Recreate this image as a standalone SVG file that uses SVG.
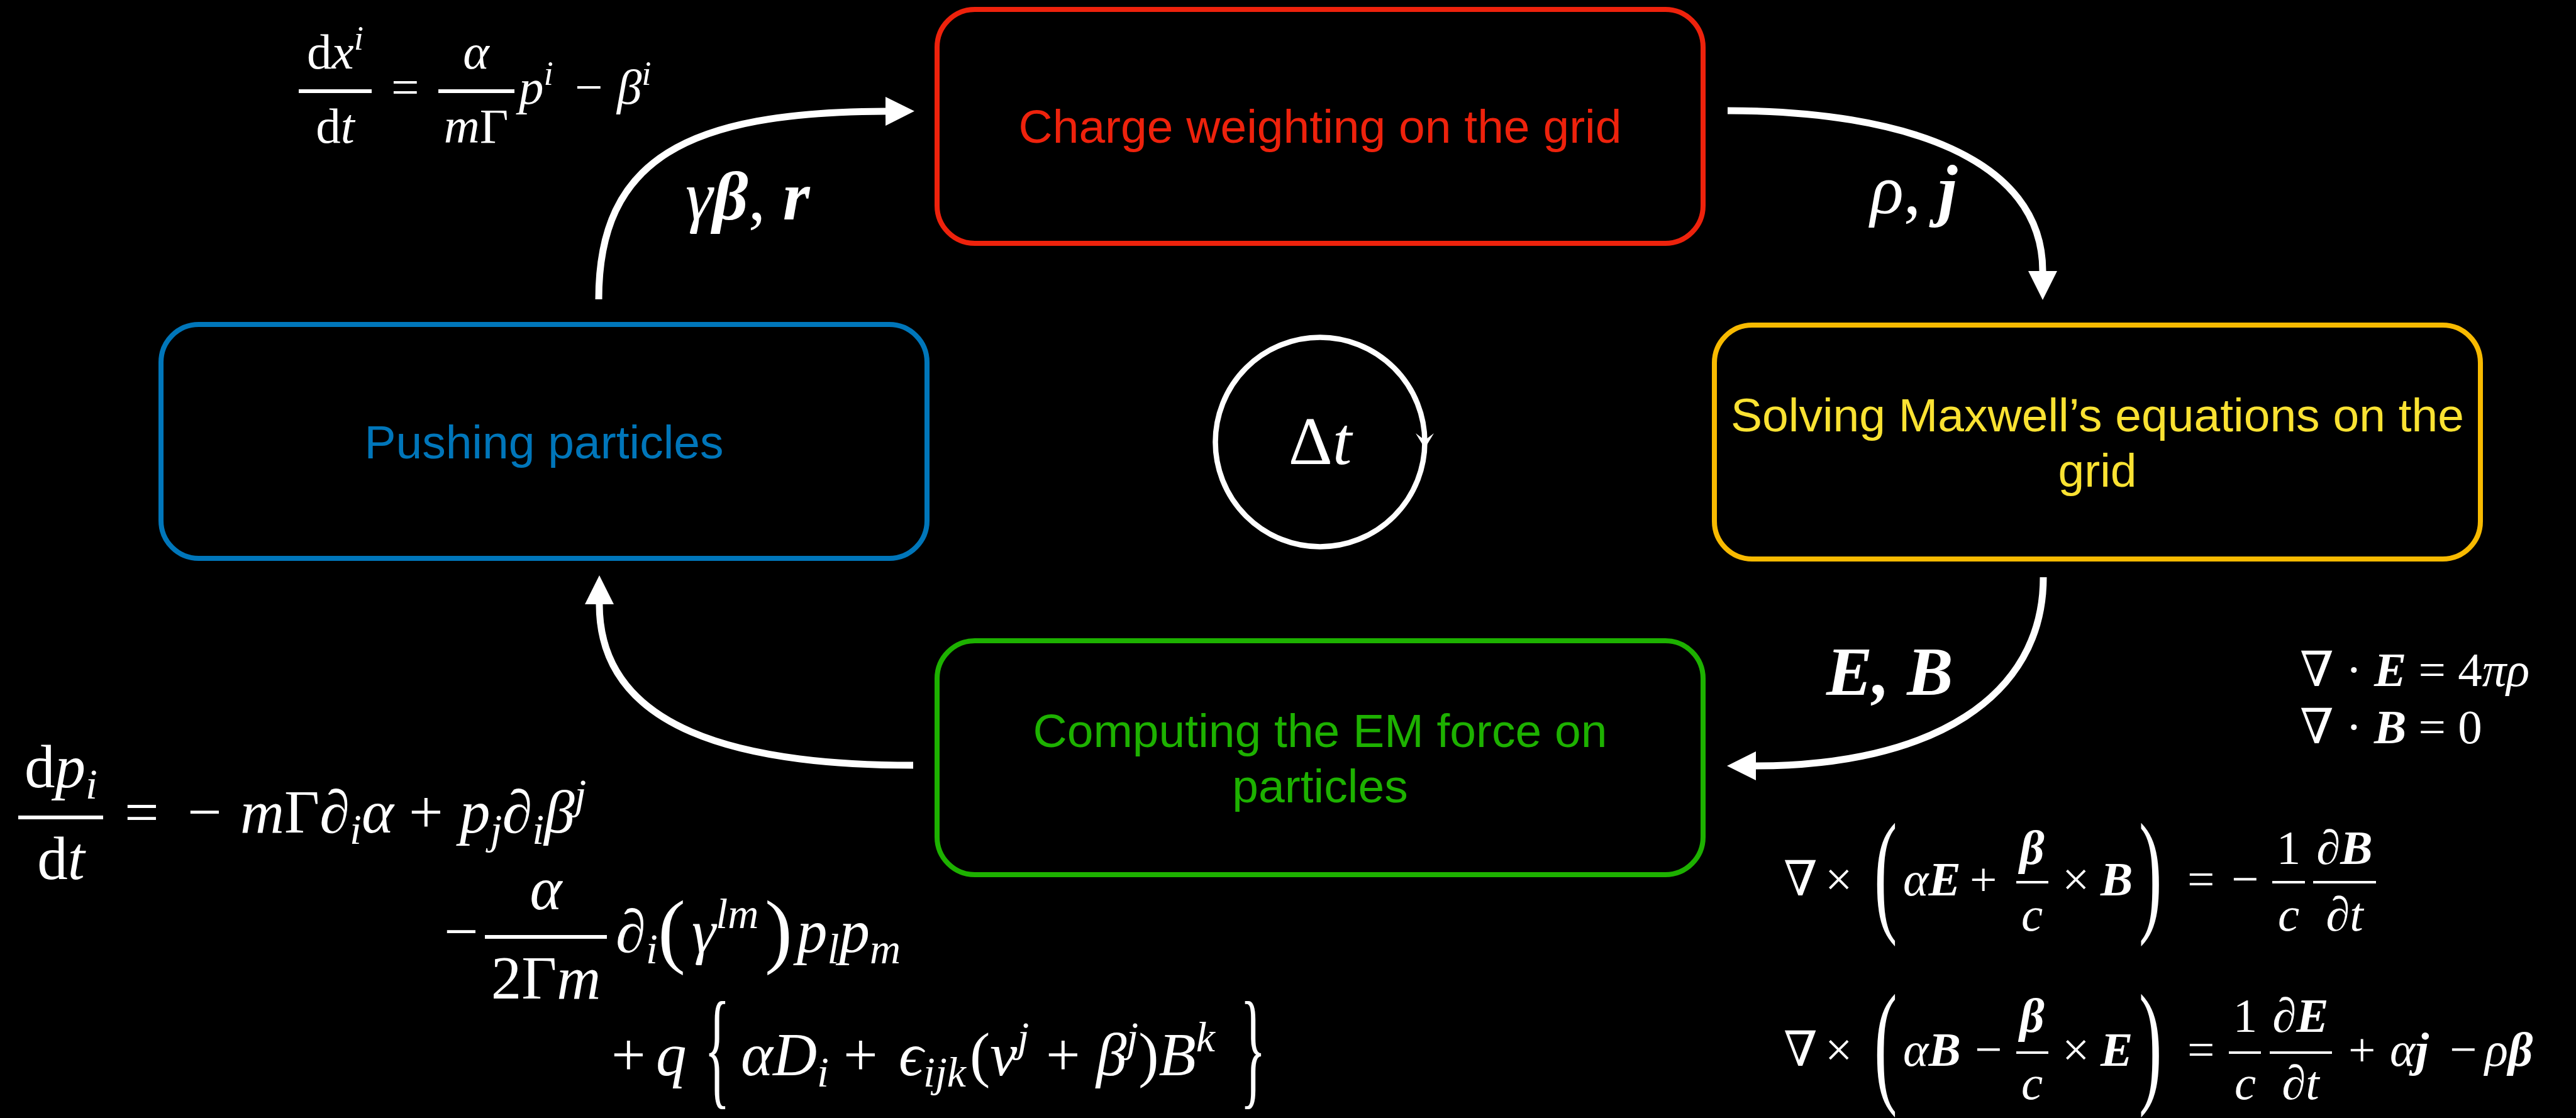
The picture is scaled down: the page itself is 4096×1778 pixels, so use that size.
<svg xmlns="http://www.w3.org/2000/svg" width="4096" height="1778" viewBox="0 0 4096 1778">
<style>
.box{fill:none;stroke-width:8}
.lbl{font-family:'Liberation Sans',Arial,sans-serif;font-size:75px;text-anchor:middle}
.m{font-family:'Liberation Serif','DejaVu Serif',serif;fill:#fff}
.i{font-style:italic}
.b{font-weight:bold;font-style:italic}
.mid{text-anchor:middle}
.conn{fill:none;stroke:#fff;stroke-width:11}
.bar{fill:#fff}
</style>
<defs>
<marker id="ah" markerUnits="userSpaceOnUse" viewBox="0 -24 48 48" markerWidth="48" markerHeight="48" refX="0" refY="0" orient="auto"><path d="M0,-23 L46,0 L0,23 z" fill="#fff"/></marker>
</defs>
<rect width="4096" height="1778" fill="#000"/>

<g id="charge">
<rect class="box" x="1490" y="15" width="1218" height="372" rx="60" stroke="#EE220C"/>
<text class="lbl" x="2099" y="227" fill="#EE220C">Charge weighting on the grid</text>
</g>
<g id="pushing">
<rect class="box" x="256" y="516" width="1218" height="372" rx="60" stroke="#0076BA"/>
<text class="lbl" x="865" y="729" fill="#0076BA">Pushing particles</text>
</g>
<g id="maxwell">
<rect class="box" x="2726" y="517" width="1218" height="372" rx="60" stroke="#F8BA00"/>
<text class="lbl" x="3335" y="686" fill="#FAE232">Solving Maxwell’s equations on the</text>
<text class="lbl" x="3335" y="774" fill="#FAE232">grid</text>
</g>
<g id="force">
<rect class="box" x="1490" y="1019" width="1218" height="372" rx="60" stroke="#1DB100"/>
<text class="lbl" x="2099" y="1188" fill="#1DB100">Computing the EM force on</text>
<text class="lbl" x="2099" y="1276" fill="#1DB100">particles</text>
</g>
<g id="timestep">
<circle cx="2099" cy="703" r="166.5" fill="none" stroke="#fff" stroke-width="8.5"/>
<polygon points="2251,689 2265.5,700 2280,689 2265.5,713" fill="#fff"/>
<text class="m mid" x="2099" y="738" font-size="109">Δ<tspan class="i">t</tspan></text>
</g>

<g id="connectors">
<path class="conn" d="M952,476 C952,252 1093,178 1408,177" marker-end="url(#ah)"/>
<path class="conn" d="M2747,176 C3028,176 3248,252 3248,431" marker-end="url(#ah)"/>
<path class="conn" d="M3249,918 C3249,1110 3070,1218 2792,1218" marker-end="url(#ah)"/>
<path class="conn" d="M1452,1217 C1177,1217 953,1161 953,961" marker-end="url(#ah)"/>
</g>

<g id="edge-labels">
<text class="m" x="1090" y="349" font-size="110"><tspan class="i">γ</tspan><tspan class="b">β</tspan>, <tspan class="b">r</tspan></text>
<text class="m" x="2974" y="339" font-size="110"><tspan class="i">ρ</tspan>, <tspan class="b">j</tspan></text>
<text class="m b" x="2904" y="1105" font-size="110">E, B</text>
</g>

<g id="eq-position" font-size="79">
<text class="m mid" x="533" y="109">d<tspan class="i">x</tspan><tspan class="i" font-size="55" dy="-30">i</tspan></text>
<rect class="bar" x="475" y="142" width="116" height="6"/>
<text class="m mid" x="533" y="227">d<tspan class="i">t</tspan></text>
<text class="m" x="622" y="165">=</text>
<text class="m mid i" x="757" y="109">α</text>
<rect class="bar" x="697" y="142" width="121" height="6"/>
<text class="m mid" x="757" y="227"><tspan class="i">m</tspan>Γ</text>
<text class="m" x="825" y="165"><tspan class="i">p</tspan><tspan class="i" font-size="55" dy="-30">i</tspan></text>
<text class="m" x="914" y="165">−</text>
<text class="m" x="981" y="165"><tspan class="i">β</tspan><tspan class="i" font-size="55" dy="-30">i</tspan></text>
</g>

<g id="eq-momentum" font-size="97">
<text class="m mid" x="97" y="1252">d<tspan class="i">p</tspan><tspan class="i" font-size="68" dy="18">i</tspan></text>
<rect class="bar" x="29" y="1297" width="135" height="6"/>
<text class="m mid" x="97" y="1398">d<tspan class="i">t</tspan></text>
<text class="m" x="198" y="1324">=</text>
<text class="m" x="298" y="1324">−</text>
<text class="m" x="382" y="1324"><tspan class="i">m</tspan>Γ∂<tspan class="i" font-size="68" dy="18">i</tspan><tspan class="i" dy="-18">α</tspan></text>
<text class="m" x="650" y="1324">+</text>
<text class="m" x="731" y="1324"><tspan class="i">p</tspan><tspan class="i" font-size="68" dy="18">j</tspan><tspan dy="-18">∂</tspan><tspan class="i" font-size="68" dy="18">i</tspan><tspan class="i" dy="-18">β</tspan><tspan class="i" font-size="68" dy="-38">j</tspan></text>

<text class="m" x="706" y="1514">−</text>
<rect class="bar" x="771" y="1487" width="194" height="6"/>
<text class="m mid i" x="868" y="1446">α</text>
<text class="m mid" x="868" y="1588">2Γ<tspan class="i">m</tspan></text>
<text class="m" x="979" y="1514">∂<tspan class="i" font-size="68" dy="18">i</tspan></text>
<text class="m" x="1046" y="1523" font-size="132">(</text>
<text class="m" x="1100" y="1514"><tspan class="i">γ</tspan><tspan class="i" font-size="68" dy="-38">lm</tspan></text>
<text class="m" x="1216" y="1523" font-size="132">)</text>
<text class="m" x="1267" y="1514"><tspan class="i">p</tspan><tspan class="i" font-size="68" dy="18">l</tspan><tspan class="i" dy="-18">p</tspan><tspan class="i" font-size="68" dy="18">m</tspan></text>

<text class="m" x="972" y="1710">+</text>
<text class="m i" x="1043" y="1710">q</text>
<text class="m" font-size="85" transform="translate(1120,1736) scale(1,2.44)">{</text>
<text class="m" x="1178" y="1710"><tspan class="i">αD</tspan><tspan class="i" font-size="68" dy="18">i</tspan></text>
<text class="m" x="1341" y="1710">+</text>
<text class="m" x="1429" y="1710"><tspan class="i">ϵ</tspan><tspan class="i" font-size="68" dy="18">ijk</tspan></text>
<text class="m" x="1542" y="1710">(<tspan class="i">v</tspan><tspan class="i" font-size="68" dy="-38">j</tspan></text>
<text class="m" x="1663" y="1710">+</text>
<text class="m" x="1743" y="1710"><tspan class="i">β</tspan><tspan class="i" font-size="68" dy="-38">j</tspan><tspan dy="38">)</tspan><tspan class="i">B</tspan><tspan class="i" font-size="68" dy="-38">k</tspan></text>
<text class="m" font-size="85" transform="translate(1972,1736) scale(1,2.44)">}</text>
</g>

<g id="eq-maxwell" font-size="77">
<text class="m" x="3657" y="1091">∇ · <tspan class="b">E</tspan> = 4<tspan class="i">πρ</tspan></text>
<text class="m" x="3657" y="1182">∇ · <tspan class="b">B</tspan> = 0</text>

<text class="m" x="2836" y="1424">∇</text>
<text class="m" x="2902" y="1424">×</text>
<text class="m" font-size="110" transform="translate(2980,1459) scale(1,1.97)">(</text>
<text class="m" x="3026" y="1424"><tspan class="i">α</tspan><tspan class="b">E</tspan></text>
<text class="m" x="3132" y="1424">+</text>
<text class="m mid b" x="3231" y="1374">β</text>
<rect class="bar" x="3206" y="1401" width="51" height="4"/>
<text class="m mid i" x="3231" y="1480">c</text>
<text class="m" x="3279" y="1424">×</text>
<text class="m b" x="3340" y="1424">B</text>
<text class="m" font-size="110" transform="translate(3401,1459) scale(1,1.97)">)</text>
<text class="m" x="3478" y="1424">=</text>
<text class="m" x="3548" y="1424">−</text>
<text class="m mid" x="3639" y="1374">1</text>
<rect class="bar" x="3613" y="1401" width="52" height="4"/>
<text class="m mid i" x="3639" y="1480">c</text>
<text class="m mid" x="3728" y="1374">∂<tspan class="b">B</tspan></text>
<rect class="bar" x="3678" y="1401" width="100" height="4"/>
<text class="m mid" x="3728" y="1480">∂<tspan class="i">t</tspan></text>

<text class="m" x="2836" y="1695">∇</text>
<text class="m" x="2902" y="1695">×</text>
<text class="m" font-size="110" transform="translate(2980,1731) scale(1,1.97)">(</text>
<text class="m" x="3026" y="1695"><tspan class="i">α</tspan><tspan class="b">B</tspan></text>
<text class="m" x="3140" y="1695">−</text>
<text class="m mid b" x="3231" y="1641">β</text>
<rect class="bar" x="3206" y="1672" width="51" height="4"/>
<text class="m mid i" x="3231" y="1748">c</text>
<text class="m" x="3279" y="1695">×</text>
<text class="m b" x="3340" y="1695">E</text>
<text class="m" font-size="110" transform="translate(3401,1731) scale(1,1.97)">)</text>
<text class="m" x="3478" y="1695">=</text>
<text class="m mid" x="3570" y="1641">1</text>
<rect class="bar" x="3544" y="1672" width="51" height="4"/>
<text class="m mid i" x="3570" y="1748">c</text>
<text class="m mid" x="3658" y="1641">∂<tspan class="b">E</tspan></text>
<rect class="bar" x="3609" y="1672" width="99" height="4"/>
<text class="m mid" x="3658" y="1748">∂<tspan class="i">t</tspan></text>
<text class="m" x="3734" y="1695">+</text>
<text class="m" x="3800" y="1695"><tspan class="i">α</tspan><tspan class="b">j</tspan></text>
<text class="m" x="3895" y="1695">−</text>
<text class="m" x="3951" y="1695"><tspan class="i">ρ</tspan><tspan class="b">β</tspan></text>
</g>
</svg>
